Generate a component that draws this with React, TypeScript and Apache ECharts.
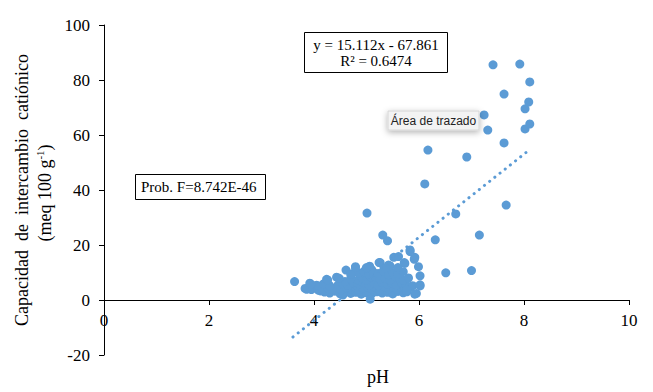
import React, { useEffect, useRef } from "react";
import * as echarts from "echarts";

// pH vs. CIC (meq 100 g-1)
const clusterPoints: [number, number][] = [
  [4.3, 2.5], [4.5, 2.2], [4.6, 3.0], [4.7, 2.4], [4.8, 2.8], [4.9, 2.1], [5.0, 2.6], [5.1, 2.3],
  [5.2, 3.0], [5.3, 2.5], [5.4, 2.8], [5.5, 2.2], [5.6, 3.1], [5.7, 2.6], [5.77, 3.0], [5.95, 2.4],
  [4.4, 3.2], [4.55, 1.8], [4.2, 2.9], [4.12, 3.3],
  [3.83, 4.2], [3.95, 3.8], [4.08, 3.6], [4.15, 4.5], [4.27, 4.2], [4.35, 3.9], [4.45, 4.6], [4.52, 3.7],
  [4.62, 4.4], [4.7, 4.0], [4.78, 4.7], [4.85, 3.8], [4.93, 4.3], [5.02, 4.8], [5.1, 4.0], [5.18, 4.5],
  [5.25, 3.7], [5.33, 4.9], [5.42, 4.2], [5.5, 4.6], [5.58, 4.0], [5.66, 4.8], [5.74, 4.3], [5.84, 4.6],
  [3.92, 6.1], [4.05, 5.4], [4.18, 5.9], [4.3, 5.2], [4.46, 5.5], [4.55, 6.0], [4.65, 5.3], [4.75, 6.2],
  [4.84, 5.6], [4.95, 6.3], [5.05, 5.5], [5.15, 6.1], [5.22, 5.4], [5.3, 6.4], [5.4, 5.7], [5.48, 6.2],
  [5.57, 5.5], [5.67, 6.1], [5.75, 5.6], [6.02, 5.5], [5.88, 5.2],
  [3.63, 6.7], [4.24, 7.5], [4.43, 8.3], [4.59, 6.7], [4.84, 7.3], [4.7, 7.8], [4.92, 8.0], [5.0, 7.2],
  [5.08, 8.4], [5.16, 8.5], [5.25, 7.6], [5.35, 8.1], [5.45, 7.3], [5.54, 8.5], [5.63, 7.8], [5.7, 7.2],
  [5.8, 8.0], [6.02, 8.8],
  [4.72, 9.5], [4.61, 10.9], [4.85, 9.8], [4.95, 10.4], [5.05, 9.3], [5.13, 10.1], [5.22, 9.6], [5.32, 10.5],
  [5.42, 9.2], [5.5, 10.0], [5.6, 9.5], [5.7, 10.3], [5.1, 11.0],
  [4.79, 12.1], [5.0, 11.5], [5.06, 12.3], [5.26, 13.6], [5.42, 12.7], [5.45, 12.4], [5.73, 13.3], [5.99, 12.1],
  [5.91, 14.8], [5.24, 13.6], [5.36, 11.6], [5.6, 11.8],
  [5.52, 15.5], [5.61, 15.8], [5.92, 15.5], [5.83, 17.6], [5.83, 18.2], [5.72, 13.6],
  [5.07, 0.3], [5.92, 2.1], [3.86, 3.9], [3.94, 5.8], [6.02, 5.1], [5.77, 3.6], [4.26, 7.3], [4.48, 7.9],
  [4.7, 9.3], [4.79, 11.8], [5.0, 11.8],
];

const outlierPoints: [number, number][] = [
  [5.01, 31.6], [5.31, 23.6], [5.4, 21.5], [6.31, 21.9], [7.15, 23.6], [6.51, 9.9], [7.0, 10.7],
  [6.7, 31.3], [7.66, 34.5], [6.11, 42.2], [6.91, 52.0], [6.17, 54.5], [7.62, 57.1], [7.31, 61.8],
  [8.02, 62.2], [8.11, 64.0], [7.24, 67.3], [8.02, 69.5], [8.09, 72.0], [7.62, 74.9], [8.11, 79.3],
  [7.41, 85.5], [7.92, 85.8],
];

// Linear trend line shown in the chart: y = 15.112x - 67.861
const trendSlope = 15.112;
const trendIntercept = -67.861;
const trendRange = [3.6, 8.04];

const xTicks = { min: 0, max: 10, interval: 2 };
const yTicks = { min: -20, max: 100, interval: 20 };

const BLUE = "#5B9BD5";
const SERIF = "'Liberation Serif', 'Times New Roman', serif";

const GRID_TOP = 25;
const GRID_BOTTOM = 37;
const CHART_H = 392;

export default function App() {
  const ref = useRef<HTMLDivElement>(null);

  useEffect(() => {
    document.body.style.margin = "0";
    const chart = echarts.init(ref.current!, undefined, { renderer: "svg" });
    const trendData = trendRange.map((x) => [x, trendSlope * x + trendIntercept]);
    const axisText = { fontFamily: SERIF, fontSize: 17, color: "#000" };
    // place the x axis where y = 0 (grid height scaled over the y range)
    const gridH = CHART_H - GRID_TOP - GRID_BOTTOM;
    const zeroOffset = -gridH * (0 - yTicks.min) / (yTicks.max - yTicks.min);
    chart.setOption({
      animation: false,
      backgroundColor: "#fff",
      grid: { left: 104, right: 24, top: GRID_TOP, bottom: GRID_BOTTOM, containLabel: false },
      xAxis: {
        type: "value",
        ...xTicks,
        offset: zeroOffset,
        axisLine: { show: true, onZero: false, lineStyle: { color: "#000", width: 1 } },
        axisTick: { show: true, length: 5, inside: false, lineStyle: { color: "#000" } },
        axisLabel: { ...axisText, margin: 12 },
        splitLine: { show: false },
      },
      yAxis: {
        type: "value",
        ...yTicks,
        axisLine: { show: true, onZero: false, lineStyle: { color: "#000", width: 1 } },
        axisTick: { show: true, length: 5, inside: false, lineStyle: { color: "#000" } },
        axisLabel: { ...axisText, margin: 14 },
        splitLine: { show: false },
      },
      series: [
        {
          type: "scatter",
          data: [...clusterPoints, ...outlierPoints],
          symbolSize: 9,
          itemStyle: { color: BLUE, opacity: 1 },
          z: 2,
        },
        {
          type: "line",
          data: trendData,
          showSymbol: false,
          symbol: "none",
          lineStyle: { color: BLUE, width: 3, type: [0.1, 6.5], cap: "round" },
          z: 3,
        },
      ],
      graphic: [
        {
          type: "text",
          x: 22,
          y: 190,
          rotation: Math.PI / 2,
          style: {
            text: "Capacidad  de  intercambio  catiónico",
            fontFamily: SERIF,
            fontSize: 18,
            fill: "#000",
            align: "center",
            verticalAlign: "middle",
          },
        },
        {
          type: "text",
          x: 45,
          y: 193,
          rotation: Math.PI / 2,
          style: {
            text: "(meq 100 g{sup|-1})",
            fontFamily: SERIF,
            fontSize: 18,
            fill: "#000",
            align: "center",
            verticalAlign: "middle",
            lineHeight: 22,
            rich: {
              sup: { fontFamily: SERIF, fontSize: 11, fill: "#000", verticalAlign: "top", lineHeight: 22, padding: [0, 0, 6, 0] },
            },
          },
        },
        {
          type: "text",
          x: 378,
          y: 377,
          style: { text: "pH", fontFamily: SERIF, fontSize: 18, fill: "#000", align: "center", verticalAlign: "middle" },
        },
        {
          type: "rect",
          shape: { x: 304.5, y: 32.5, width: 143, height: 40 },
          style: { fill: "#fff", stroke: "#000", lineWidth: 1 },
          z: 10,
        },
        {
          type: "text",
          x: 376,
          y: 45,
          z: 11,
          style: { text: "y = 15.112x - 67.861", fontFamily: SERIF, fontSize: 15, fill: "#000", align: "center", verticalAlign: "middle" },
        },
        {
          type: "text",
          x: 376,
          y: 61,
          z: 11,
          style: { text: "R² = 0.6474", fontFamily: SERIF, fontSize: 15, fill: "#000", align: "center", verticalAlign: "middle" },
        },
        {
          type: "rect",
          shape: { x: 135.5, y: 174.5, width: 130, height: 25 },
          style: { fill: "#fff", stroke: "#000", lineWidth: 1 },
          z: 10,
        },
        {
          type: "text",
          x: 141,
          y: 187,
          z: 11,
          style: { text: "Prob. F=8.742E-46", fontFamily: SERIF, fontSize: 15, fill: "#000", align: "left", verticalAlign: "middle" },
        },
        {
          type: "rect",
          shape: { x: 388, y: 111, width: 91, height: 19 },
          style: {
            fill: "#f3f3f3",
            stroke: "#d6d6d6",
            lineWidth: 1,
            shadowBlur: 6,
            shadowColor: "rgba(0,0,0,0.3)",
            shadowOffsetY: 2,
          },
          z: 20,
        },
        {
          type: "text",
          x: 433.5,
          y: 120.5,
          z: 21,
          style: {
            text: "Área de trazado",
            fontFamily: "'Liberation Sans', Arial, sans-serif",
            fontSize: 12,
            fill: "#222",
            align: "center",
            verticalAlign: "middle",
          },
        },
      ],
    });
    return () => chart.dispose();
  }, []);

  return (
    <div
      ref={ref}
      style={{ position: "absolute", left: 0, top: 0, width: 653, height: 392 }}
    />
  );
}
